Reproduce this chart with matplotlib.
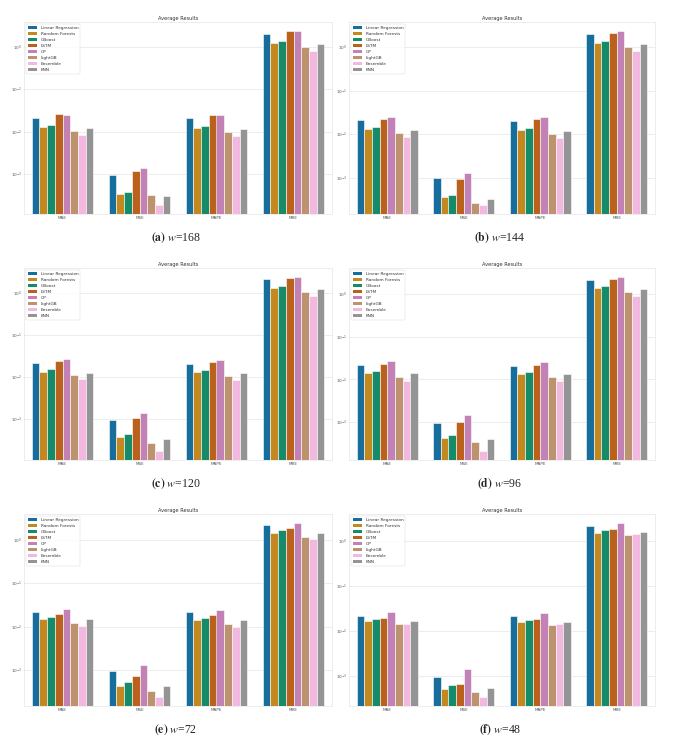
import numpy as np
import pandas as pd
import matplotlib
matplotlib.use("Agg")
import matplotlib.pyplot as plt
import seaborn as sns

# models / metrics as in the legend and x axis
models = ["Linear Regression", "Random Forests", "GBoost", "LSTM", "GP",
          "LightGB", "Ensemble", "KNN"]
metrics = ["MAE", "MSE", "MAPE", "MRE"]

# rows = metrics, cols = models
vals_w168 = [
    [0.0214, 0.0131, 0.0140, 0.0256, 0.0247, 0.0101, 0.0081, 0.0119],
    [0.00093, 0.00034, 0.00038, 0.00116, 0.00134, 0.00031, 0.00018, 0.000294],
    [0.0206, 0.0124, 0.0135, 0.0243, 0.0243, 0.0097, 0.0078, 0.0115],
    [2.07, 1.27, 1.39, 2.44, 2.44, 0.98, 0.80, 1.18],
]
vals_w144 = [
    [0.0210, 0.0130, 0.0145, 0.0226, 0.0251, 0.0104, 0.0085, 0.0122],
    [0.00095, 0.000358, 0.000405, 0.00093, 0.0013, 0.000256, 0.00023, 0.000327],
    [0.0203, 0.0126, 0.0140, 0.0222, 0.0243, 0.0100, 0.0081, 0.0117],
    [2.00, 1.26, 1.37, 2.14, 2.38, 0.98, 0.81, 1.17],
]
vals_w120 = [
    [0.0217, 0.0134, 0.0153, 0.0242, 0.0261, 0.0110, 0.0088, 0.0127],
    [0.00095, 0.000363, 0.000445, 0.00104, 0.00137, 0.000265, 0.000168, 0.000325],
    [0.0209, 0.0132, 0.0150, 0.0233, 0.0251, 0.0104, 0.0085, 0.0122],
    [2.13, 1.32, 1.47, 2.33, 2.47, 1.06, 0.85, 1.25],
]
vals_w96 = [
    [0.0217, 0.0141, 0.0157, 0.0229, 0.0264, 0.0113, 0.0093, 0.0138],
    [0.00096, 0.00042, 0.000496, 0.0010, 0.00146, 0.000352, 0.00021, 0.0004],
    [0.0209, 0.0136, 0.0151, 0.0221, 0.0255, 0.0111, 0.0090, 0.0131],
    [2.05, 1.36, 1.49, 2.21, 2.50, 1.09, 0.88, 1.31],
]
vals_w72 = [
    [0.0218, 0.0148, 0.0167, 0.0193, 0.0256, 0.0122, 0.0104, 0.0150],
    [0.00095, 0.000435, 0.000528, 0.00075, 0.00135, 0.000327, 0.000238, 0.000443],
    [0.0214, 0.0143, 0.0161, 0.0183, 0.0243, 0.0117, 0.0100, 0.0145],
    [2.18, 1.45, 1.64, 1.89, 2.47, 1.19, 1.02, 1.45],
]
vals_w48 = [
    [0.0217, 0.0162, 0.0179, 0.0189, 0.0262, 0.0141, 0.0141, 0.0164],
    [0.00092, 0.000503, 0.000618, 0.00066, 0.00139, 0.00043, 0.000327, 0.00053],
    [0.0209, 0.0154, 0.0173, 0.0179, 0.0253, 0.0134, 0.0139, 0.0159],
    [2.13, 1.54, 1.76, 1.86, 2.57, 1.39, 1.43, 1.62],
]

panel_vals = [vals_w168, vals_w144, vals_w120, vals_w96, vals_w72, vals_w48]
panel_letters = ["a", "b", "c", "d", "e", "f"]
panel_w = [168, 144, 120, 96, 72, 48]

sns.set_theme(style="whitegrid")
plt.rcParams["mathtext.fontset"] = "stix"

W, H = 693, 739
fig = plt.figure(figsize=(W / 100, H / 100), dpi=100)

col_x = [24, 349]
col_w = [308, 306]
row_top = [22, 268, 514]
ax_h = 192

for i, vals in enumerate(panel_vals):
    r, c = divmod(i, 2)
    ax = fig.add_axes([col_x[c] / W, 1 - (row_top[r] + ax_h) / H,
                       col_w[c] / W, ax_h / H])
    arr = np.array(vals)
    df = pd.DataFrame([(metrics[m], models[k], arr[m, k])
                       for m in range(len(metrics)) for k in range(len(models))],
                      columns=["metric", "model", "value"])
    sns.barplot(data=df, x="metric", y="value", hue="model", order=metrics,
                hue_order=models, palette="colorblind", ax=ax,
                linewidth=0.4, edgecolor="white")
    ax.set_yscale("log")
    lo, hi = np.log10(arr.min()), np.log10(arr.max())
    pad = 0.05 * (hi - lo)
    ax.set_ylim(10 ** (lo - pad), 10 ** (hi + pad))
    ax.set_xlim(-0.5, 3.5)
    ax.set_yticks([1e-3, 1e-2, 1e-1, 1])
    ax.yaxis.set_minor_locator(matplotlib.ticker.NullLocator())
    ax.set_xlabel("")
    ax.set_ylabel("")
    ax.set_title("Average Results", fontsize=3.6, pad=1.5, color="#333333")
    ax.tick_params(axis="both", labelsize=3.0, pad=1.5, colors="#555555",
                   length=0)
    ax.grid(True, axis="y", linewidth=0.5, color="#e6e6e6")
    ax.grid(False, axis="x")
    for s in ax.spines.values():
        s.set_linewidth(0.4)
        s.set_color("#e0e0e0")
    leg = ax.legend(loc="upper left", fontsize=3.1, frameon=True,
                    borderaxespad=0.5, handlelength=2.2, handleheight=0.9,
                    labelspacing=0.4)
    leg.get_frame().set_linewidth(0.3)
    for h in leg.legend_handles:
        h.set_linewidth(0)
    for t in leg.get_texts():
        t.set_color("#333333")

    cx = (col_x[c] + col_w[c] / 2 - 2) / W
    cy = 1 - (row_top[r] + ax_h + 24) / H
    fig.text(cx, cy, r"$\mathbf{(" + panel_letters[i] + r")}\ \mathit{w}$=" + str(panel_w[i]),
             ha="center", va="center", fontsize=8.5, family="Liberation Serif")

fig.savefig("out.png", dpi=100)
